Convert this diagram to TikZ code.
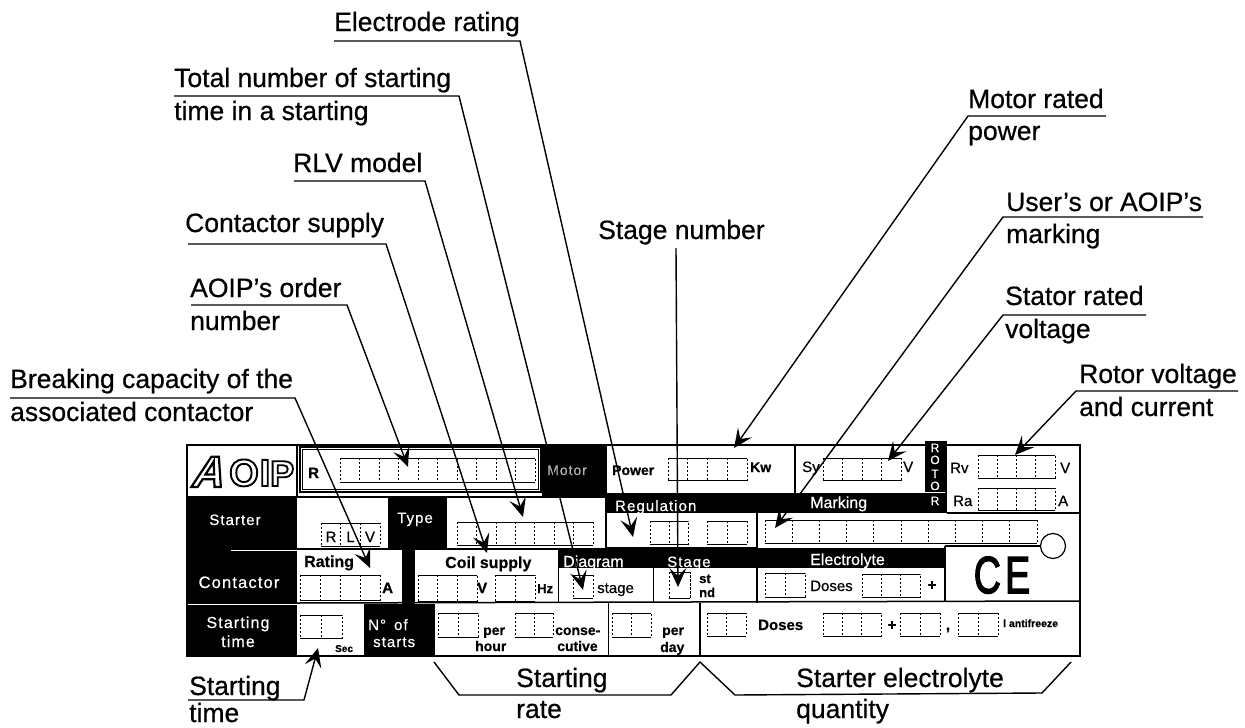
\documentclass[tikz,border=0pt]{standalone}
\usepackage{fontspec}
\usepackage{graphicx}
\setmainfont[FakeBold=0.6]{Liberation Sans}
\newfontface\logofont[FakeBold=5]{Liberation Sans Bold}
\newfontface\logofontA[FakeBold=5,FakeSlant=0.3]{Liberation Sans Bold}
\newfontface\cefont[FakeBold=3]{Liberation Sans}
\newcommand{\lsp}{\addfontfeature{LetterSpace=7}}
\usetikzlibrary{arrows.meta}
\newcommand{\cellbox}[5]{%
  \draw[celldiv] (#1,#2) rectangle (#3,#4);
  \draw[cellfrm] (#1,#2) -- (#3,#2) (#1,#4) -- (#3,#4);
  \pgfmathsetmacro{\cellw}{(#3-#1)/#5}
  \pgfmathtruncatemacro{\celln}{#5-1}
  \foreach \ci in {1,...,\celln}{\draw[celldiv] ({#1+\ci*\cellw},#2) -- ({#1+\ci*\cellw},#4);}
}
\tikzset{
  cellfrm/.style={line width=0.9pt,black},
  celldiv/.style={line width=0.7pt,black,dash pattern=on 2pt off 2pt},
  blk/.style={fill=black,draw=none},
  frameln/.style={line width=1.5pt,black},
  call/.style={anchor=base west,inner sep=0pt,font=\fontsize{26.5}{27}\selectfont},
  pl/.style={anchor=base west,inner sep=0pt,font=\fontsize{15}{15}\selectfont},
  plb/.style={pl,font=\fontsize{15}{15}\selectfont\bfseries},
  plw/.style={pl,text=white,font=\fontsize{15}{15}\selectfont\lsp},
  pc/.style={anchor=base,inner sep=0pt,font=\fontsize{15}{15}\selectfont\lsp,text=white},
  lead/.style={line width=1.4pt,black},
  tipped/.style={lead,-{Stealth[length=19pt,width=17pt,inset=8pt]}},
}
\begin{document}
\begin{tikzpicture}[x=1pt,y=-1pt]
\useasboundingbox (0,0) rectangle (1245,728);
% ---- black blocks
\fill[blk] (187,497) rectangle (297,657);
\draw[white,line width=1pt] (231,550) -- (297,550);
\draw[white,line width=1pt] (187,604) -- (297,604);
\fill[blk] (542,445) rectangle (607,497);
\fill[blk] (388,497) rectangle (447,548);
\fill[blk] (297,548) rectangle (558,550);
\fill[blk] (402,550) rectangle (415,604);
\fill[blk] (606,493) rectangle (947,513);
\fill[blk] (925,441) rectangle (947,513);
\fill[blk] (558,548) rectangle (945,568);
\fill[blk] (364,604) rectangle (435,657);
\draw[white,line width=1pt] (925,492) -- (945,492);
% ---- frame and rules
\draw[frameln] (187,445) rectangle (1080,656);
\draw[frameln] (187,497) -- (607,497);
\draw[frameln] (297,445) -- (297,497);
\draw[frameln] (795,445) -- (795,493);
\draw[frameln] (606,497) -- (606,548) -- (757,548);
\draw[frameln] (757,513) -- (757,603);
\draw[frameln] (947,513) -- (1080,513);
\draw[frameln] (945,546) -- (1042,546);
\draw[frameln] (945,546) -- (945,601);
\draw[line width=1pt] (558,568) -- (558,603) (653,568) -- (653,603);
\draw[frameln] (297,603) -- (1080,601);
\draw[line width=1pt] (608,603) -- (608,656);
\draw[frameln] (700,603) -- (700,656);
\draw[line width=1.2pt,black] (300,447) rectangle (541,492);
\draw[line width=1.2pt,black] (302.5,449.5) rectangle (538.5,489.5);
\node[circle,draw=black,fill=white,line width=1.2pt,minimum size=25pt,inner sep=0pt] (ring) at (1053,546) {};
% ---- cells
\cellbox{340}{458}{535}{482}{10}
\cellbox{321}{523}{380}{546}{3}
\cellbox{457}{522}{593}{545}{7}
\cellbox{300}{575}{380}{600}{4}
\cellbox{418}{575}{477}{601}{3}
\cellbox{495}{575}{535}{601}{2}
\cellbox{573}{575}{593}{598}{1}
\cellbox{300}{615}{342}{638}{2}
\cellbox{438}{613}{478}{637}{2}
\cellbox{515}{613}{553}{637}{2}
\cellbox{612}{613}{651}{637}{2}
\cellbox{668}{458}{747}{480}{4}
\cellbox{823}{458}{901}{480}{4}
\cellbox{978}{455}{1055}{478}{4}
\cellbox{978}{488}{1055}{510}{4}
\cellbox{650}{521}{688}{544}{2}
\cellbox{707}{521}{747}{544}{2}
\cellbox{765}{520}{1037}{543}{10}
\cellbox{669}{572}{690}{598}{1}
\cellbox{765}{573}{805}{597}{2}
\cellbox{862}{574}{920}{597}{3}
\cellbox{707}{613}{746}{636}{2}
\cellbox{823}{613}{881}{636}{3}
\cellbox{900}{613}{940}{636}{2}
\cellbox{958}{613}{998}{636}{2}
% ---- logo
\node[anchor=base west,inner sep=0pt] (logoA) at (190,487) {\fontsize{44}{44}\logofontA\color{white}\special{pdf:code 0 0 0 RG}A};
\node[anchor=base west,inner sep=0pt] (logoO) at (229,486) {\fontsize{38}{38}\logofont\color{white}\special{pdf:code 0 0 0 RG}O};
\node[anchor=base west,inner sep=0pt] (logoI) at (259.5,486) {\fontsize{38}{38}\logofont\color{white}\special{pdf:code 0 0 0 RG}I};
\node[anchor=base west,inner sep=0pt] (logoP) at (270,486) {\fontsize{36}{36}\logofont\color{white}\special{pdf:code 0 0 0 RG}P};
% ---- plate texts
\node[pc] (tStarter) at (235,525) {Starter};
\node[pc,font=\fontsize{16.5}{17}\selectfont\lsp] (tContactor) at (239,588) {Contactor};
\node[pc,font=\fontsize{16}{16}\selectfont\lsp] (tStarting) at (238,628) {Starting};
\node[pc,font=\fontsize{16}{16}\selectfont\lsp] (tTime) at (238,647) {time};
\node[plw] (tType) at (397,523) {Type};
\node[pl,text=gray!60,font=\fontsize{14}{14}\selectfont\lsp] (tMotor) at (547,475) {Motor};
\node[plb] (tR) at (308,478) {R};
\node[pl,anchor=base] (tR1) at (331,542) {R};
\node[pl,anchor=base] (tL1) at (350.5,542) {L};
\node[pl,anchor=base] (tV1) at (370,542) {V};
\node[plb,font=\fontsize{16}{16}\selectfont\bfseries] (tRating) at (304,567) {Rating};
\node[plb] (tA1) at (382,593) {A};
\node[plb,font=\fontsize{16}{16}\selectfont\bfseries] (tCoil) at (445,568) {Coil supply};
\node[plb] (tV2) at (477,593) {V};
\node[plb,font=\fontsize{13}{13}\selectfont\bfseries] (tHz) at (537,593) {Hz};
\node[plw,font=\fontsize{16}{16}\selectfont] (tDiagram) at (563,567) {Diagram};
\node[pl] (tstage) at (597,593) {stage};
\node[plw] (tReg) at (615,511) {Regulation};
\node[plw,font=\fontsize{16}{16}\selectfont] (tMarking) at (810,508) {Marking};
\node[plw] (tStage) at (667,567) {Stage};
\node[plw,font=\fontsize{16}{16}\selectfont] (tElec) at (810,565) {Electrolyte};
\node[plb,font=\fontsize{13}{13}\selectfont\bfseries] (tst) at (699,583) {st};
\node[plb,font=\fontsize{13}{13}\selectfont\bfseries] (tnd) at (699,597) {nd};
\node[pl] (tDoses1) at (810,591) {Doses};
\node[plb,anchor=base] (tPlus1) at (932,590) {+};
\node[plb,font=\fontsize{14}{14}\selectfont\bfseries] (tPower) at (612,475) {Power};
\node[plb,font=\fontsize{14}{14}\selectfont\bfseries] (tKw) at (750,472) {Kw};
\node[pl] (tSy) at (802,472) {Sy};
\node[pl] (tV3) at (903,472) {V};
\node[pc,font=\fontsize{12}{12}\selectfont] (tRo1) at (935,452) {R};
\node[pc,font=\fontsize{12}{12}\selectfont] (tRo2) at (935,464) {O};
\node[pc,font=\fontsize{12}{12}\selectfont] (tRo3) at (935,478) {T};
\node[pc,font=\fontsize{12}{12}\selectfont] (tRo4) at (935,490) {O};
\node[pc,font=\fontsize{12}{12}\selectfont] (tRo5) at (935,505) {R};
\node[pl] (tRv) at (950,473) {Rv};
\node[pl] (tV4) at (1060,473) {V};
\node[pl] (tRa) at (953,506) {Ra};
\node[pl] (tA2) at (1058,506) {A};
\node[plw] (tNo) at (368,630) {N°\hspace{8pt}of};
\node[plw] (tStarts) at (373,647) {starts};
\node[plb,font=\fontsize{10}{10}\selectfont\bfseries] (tSec) at (335,652) {Sec};
\node[plb,font=\fontsize{14}{14}\selectfont\bfseries] (tPer1) at (483,635) {per};
\node[plb,font=\fontsize{14}{14}\selectfont\bfseries] (tHour) at (475,651) {hour};
\node[plb,font=\fontsize{14}{14}\selectfont\bfseries] (tConse) at (555,635) {conse-};
\node[plb,font=\fontsize{14}{14}\selectfont\bfseries] (tCutive) at (557,651) {cutive};
\node[plb,font=\fontsize{14}{14}\selectfont\bfseries] (tPer2) at (662,635) {per};
\node[plb,font=\fontsize{14}{14}\selectfont\bfseries] (tDay) at (660,652) {day};
\node[plb] (tDoses2) at (758,630) {Doses};
\node[plb,anchor=base] (tPlus2) at (892,630) {+};
\node[plb,anchor=base] (tComma) at (948,630) {,};
\node[plb,font=\fontsize{10.5}{11}\selectfont\bfseries] (tAnti) at (1003,627) {l antifreeze};
\node[anchor=base,inner sep=0pt] (tCE) at (1002,593) {\scalebox{0.72}[1]{\fontsize{52}{52}\cefont C\hspace{6pt}E}};
% ---- callout labels
\node[call] (lElec) at (334,31) {Electrode rating};
\node[call] (lTot) at (174,87) {Total number of starting};
\node[call] (lTot2) at (174,120) {time in a starting};
\node[call] (lRLV) at (293,172) {RLV model};
\node[call] (lCont) at (185,232) {Contactor supply};
\node[call] (lOrd) at (190,297) {AOIP's order};
\node[call] (lOrd2) at (190,330) {number};
\node[call] (lBrk) at (10,388) {Breaking capacity of the};
\node[call] (lBrk2) at (10,421) {associated contactor};
\node[call] (lMot) at (968,108) {Motor rated};
\node[call] (lMot2) at (968,140) {power};
\node[call] (lUser) at (1006,211) {User's or AOIP's};
\node[call] (lUser2) at (1006,243) {marking};
\node[call] (lStat) at (1005,305) {Stator rated};
\node[call] (lStat2) at (1005,338) {voltage};
\node[call] (lRot) at (1079,383) {Rotor voltage};
\node[call] (lRot2) at (1079,416) {and current};
\node[call] (lStage) at (598,239) {Stage number};
\node[call] (lSt) at (189,695) {Starting};
\node[call] (lSt2) at (189,722) {time};
\node[call] (lRate) at (516,687) {Starting};
\node[call] (lRate2) at (516,718) {rate};
\node[call] (lQty) at (796,687) {Starter electrolyte};
\node[call] (lQty2) at (796,718) {quantity};
% ---- leader coordinates
\coordinate (aE) at (334,41);  \coordinate (bE) at (520,41);  \coordinate (tE) at (633,537);
\coordinate (aT) at (174,96);  \coordinate (bT) at (459,96);  \coordinate (tT) at (583,590);
\coordinate (aL) at (294,181); \coordinate (bL) at (425,181); \coordinate (tL) at (523,517);
\coordinate (aC) at (188,244); \coordinate (bC) at (386,244); \coordinate (tC) at (487,553);
\coordinate (aO) at (191,305); \coordinate (bO) at (347,305); \coordinate (tO) at (408,467);
\coordinate (aB) at (10,398);  \coordinate (bB) at (295,398); \coordinate (tB) at (370,568);
\coordinate (aM) at (1106,116);\coordinate (bM) at (968,116); \coordinate (tM) at (734,448);
\coordinate (aU) at (1203,217);\coordinate (bU) at (1003,217);\coordinate (tU) at (775,528);
\coordinate (aS) at (1146,315);\coordinate (bS) at (1003,315);\coordinate (tS) at (888,461);
\coordinate (aR) at (1238,391);\coordinate (bR) at (1076,391);\coordinate (tR1c) at (1015,455);
\coordinate (aN) at (676,248); \coordinate (tN) at (678,587);
\coordinate (aSt) at (188,700);\coordinate (bSt) at (304,700);\coordinate (tSt) at (318,648);
\draw[tipped] (aE) -- (bE) -- (tE);
\draw[tipped] (aT) -- (bT) -- (tT);
\draw[tipped] (aL) -- (bL) -- (tL);
\draw[tipped] (aC) -- (bC) -- (tC);
\draw[tipped] (aO) -- (bO) -- (tO);
\draw[tipped] (aB) -- (bB) -- (tB);
\draw[tipped] (aM) -- (bM) -- (tM);
\draw[tipped] (aU) -- (bU) -- (tU);
\draw[tipped] (aS) -- (bS) -- (tS);
\draw[tipped] (aR) -- (bR) -- (tR1c);
\draw[tipped] (aN) -- (tN);
\draw[tipped] (aSt) -- (bSt) -- (tSt);
% ---- brackets
\coordinate (k1) at (434,662); \coordinate (k2) at (459,695); \coordinate (k3) at (671,695);
\coordinate (k4) at (700,662); \coordinate (k5) at (735,695); \coordinate (k6) at (1042,693); \coordinate (k7) at (1071,662);
\draw[lead] (k1) -- (k2) -- (k3) -- (k4) -- (k5) -- (k6) -- (k7);
\end{tikzpicture}
\end{document}
